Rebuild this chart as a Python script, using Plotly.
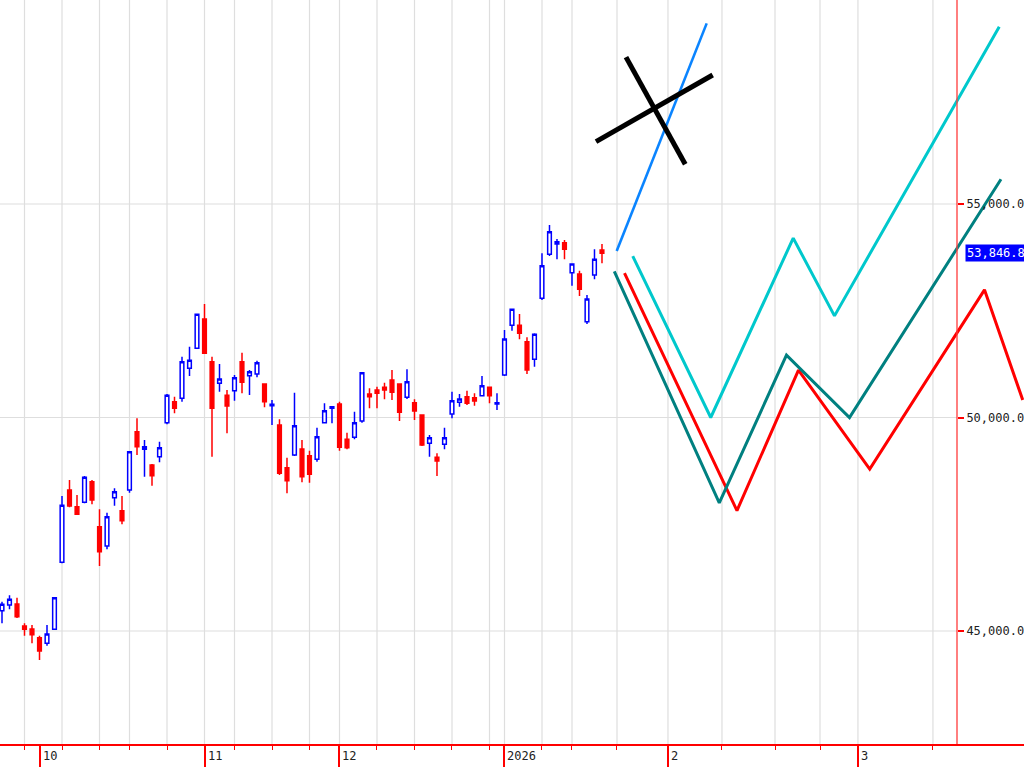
import plotly.graph_objects as go
import datetime as dt

# ---- daily candles (Nikkei 225, Sep 24 2025 - Jan 23 2026) ----
dates = [
    "2025-09-24", "2025-09-25", "2025-09-26", "2025-09-29", "2025-09-30",
    "2025-10-01", "2025-10-02", "2025-10-03", "2025-10-06", "2025-10-07", "2025-10-08", "2025-10-09", "2025-10-10",
    "2025-10-14", "2025-10-15", "2025-10-16", "2025-10-17", "2025-10-20", "2025-10-21", "2025-10-22", "2025-10-23",
    "2025-10-24", "2025-10-27", "2025-10-28", "2025-10-29", "2025-10-30", "2025-10-31",
    "2025-11-04", "2025-11-05", "2025-11-06", "2025-11-07", "2025-11-10", "2025-11-11", "2025-11-12", "2025-11-13",
    "2025-11-14", "2025-11-17", "2025-11-18", "2025-11-19", "2025-11-20", "2025-11-21", "2025-11-25", "2025-11-26",
    "2025-11-27", "2025-11-28",
    "2025-12-01", "2025-12-02", "2025-12-03", "2025-12-04", "2025-12-05", "2025-12-08", "2025-12-09", "2025-12-10",
    "2025-12-11", "2025-12-12", "2025-12-15", "2025-12-16", "2025-12-17", "2025-12-18", "2025-12-19", "2025-12-22",
    "2025-12-23", "2025-12-24", "2025-12-25", "2025-12-26", "2025-12-29", "2025-12-30",
    "2026-01-05", "2026-01-06", "2026-01-07", "2026-01-08", "2026-01-09", "2026-01-13", "2026-01-14", "2026-01-15",
    "2026-01-16", "2026-01-19", "2026-01-20", "2026-01-21", "2026-01-22", "2026-01-23",
]
opens = [45475, 45609, 45632, 45117, 45047, 44843, 44712, 45040, 46609, 48302, 47911, 48014, 48496,
         47443, 46991, 48122, 47817, 48302, 49667, 49255, 48888, 49082, 49878, 50370, 50450, 51152, 51621,
         52307, 51307, 50801, 50520, 50628, 51307, 50979, 51019, 50785, 50276, 49824, 48824, 49122, 49262,
         49105, 49021, 49878, 50215,
         50316, 49489, 49536, 49918, 50550, 50644, 50707, 50878, 50785, 50473, 50347, 50059, 49396, 49068,
         49372, 50082, 50356, 50487, 50464, 50511, 50707, 50316,
         50995, 52159, 52159, 51775, 51363, 52792, 53822, 54063, 54094, 53391, 53361, 52244, 53337, 53923]
highs = [45686, 45836, 45780, 45180, 45140, 44890, 45140, 45780, 48162, 48536, 48185, 48630, 48536,
         47850, 47770, 48342, 48162, 49215, 49981, 49473, 48911, 49433, 50550, 50487, 51424, 51658, 52417,
         52658, 51424, 51253, 50644, 50995, 51518, 51112, 51330, 50800, 50410, 49958, 49059, 50581, 49473,
         49222, 49761, 50333, 50253,
         50370, 49644, 50136, 51049, 50684, 50721, 50815, 51112, 50785, 51129, 50426, 50059, 49590, 49162,
         49761, 50604, 50550, 50628, 50567, 50972, 50721, 50567,
         52049, 52534, 52424, 51878, 51972, 53846, 54508, 54180, 54157, 53595, 53438, 52869, 53939, 54063]
lows = [45180, 45508, 45304, 44890, 44712, 44321, 44656, 45023, 46585, 47897, 47717, 47991, 47967,
        46522, 46913, 47934, 47499, 48239, 49122, 48614, 48403, 48951, 49841, 50098, 50370, 50972, 51621,
        51504, 49082, 50604, 49630, 50393, 50567, 50527, 50941, 50239, 49824, 48653, 48225, 49098, 48482,
        48473, 48965, 49864, 49864,
        49222, 49255, 49489, 49878, 50215, 50215, 50426, 50410, 49918, 50433, 49941, 49333, 49082, 48630,
        49255, 49981, 50253, 50293, 50276, 50511, 50333, 50176,
        50972, 52033, 51831, 51019, 51190, 52752, 53782, 53705, 53705, 53087, 52846, 52190, 53237, 53611]
closes = [45625, 45742, 45335, 45040, 44913, 44531, 44930, 45780, 47944, 47927, 47733, 48599, 48068,
          46857, 47677, 48262, 47583, 49199, 49316, 49316, 48637, 49293, 50520, 50215, 51307, 51340, 52417,
          51504, 50215, 50902, 50269, 50932, 50824, 51073, 51283, 50370, 50309, 48693, 48520, 49808, 48614,
          48670, 49550, 50159, 50253,
          49302, 49293, 49878, 51049, 50487, 50567, 50644, 50590, 50122, 50838, 50152, 49356, 49527, 48981,
          49527, 50393, 50433, 50333, 50386, 50745, 50511, 50347,
          51838, 52534, 51972, 51112, 51949, 53555, 54351, 54117, 53939, 53595, 53002, 52775, 53705, 53846.87]

# future part of the time axis (in trading-day slots after the last candle)
future_week_slots = [82.0, 88.8, 96.0, 103.07, 109.07, 114.13, 124.13]
future_month_slots = [88.8, 114.13]
future_month_labels = ["2", "3"]

# ---- hand-drawn scenario lines (slot, price) ----
blue_x = [81.96, 93.96]
blue_y = [53900, 59230]
cyan_x = [84.1, 94.5, 105.5, 111.0, 132.97]
cyan_y = [53780, 50000, 54200, 52380, 59150]
teal_x = [81.64, 95.64, 104.6, 113.0, 133.2]
teal_y = [53420, 48000, 51460, 50000, 55580]
red_x = [83.0, 98.0, 106.2, 115.7, 131.0, 136.1]
red_y = [53380, 47820, 51110, 48790, 52990, 50410]
cross_a_x = [79.2, 94.76]
cross_a_y = [56460, 58020]
cross_b_x = [83.2, 91.1]
cross_b_y = [58440, 55930]

price_ticks = [45000, 50000, 55000]
last_price = closes[-1]

# ---- derived axis positions ----
slots = list(range(len(dates)))
parsed = [dt.date.fromisoformat(d) for d in dates]
week_slots, month_slots, month_labels = [], [], []
for i, d in enumerate(parsed):
    if i == 0:
        continue
    p = parsed[i - 1]
    if d.isocalendar()[1] != p.isocalendar()[1]:
        week_slots.append(i)
    if d.month != p.month:
        month_slots.append(i)
        month_labels.append(str(d.year) if d.year != p.year else str(d.month))
week_slots += future_week_slots
month_slots += future_month_slots
month_labels += future_month_labels

MONO = "DejaVu Sans Mono"
AXIS_X = 957 / 1024

fig = go.Figure()
fig.add_trace(go.Candlestick(
    x=slots, open=opens, high=highs, low=lows, close=closes,
    increasing=dict(line=dict(color="#0000FF", width=1.5), fillcolor="#FFFFFF"),
    decreasing=dict(line=dict(color="#FF0000", width=1.5), fillcolor="#FF0000"),
    whiskerwidth=0, showlegend=False, hoverinfo="skip",
))
line_style = [
    (red_x, red_y, "#FF0000", 3),
    (cyan_x, cyan_y, "#00C8CC", 3),
    (teal_x, teal_y, "#008080", 3),
    (blue_x, blue_y, "#0A84FF", 2.6),
    (cross_a_x, cross_a_y, "#000000", 5),
    (cross_b_x, cross_b_y, "#000000", 5),
]
for xs, ys, col, w in line_style:
    fig.add_trace(go.Scatter(x=xs, y=ys, mode="lines", line=dict(color=col, width=w),
                             showlegend=False, hoverinfo="skip"))

shapes = []
for ws in week_slots:
    shapes.append(dict(type="line", xref="x", yref="paper", x0=ws, x1=ws, y0=0, y1=1,
                       line=dict(color="#DEDEDE", width=1.2), layer="below"))
for pt in price_ticks:
    shapes.append(dict(type="line", xref="paper", yref="y", x0=0, x1=AXIS_X, y0=pt, y1=pt,
                       line=dict(color="#DEDEDE", width=1.2), layer="below"))
# price-axis spine (red)
shapes.append(dict(type="line", xref="paper", yref="paper", x0=AXIS_X, x1=AXIS_X, y0=0, y1=1,
                   line=dict(color="#FF3B3B", width=1.3), layer="above"))

annotations = []
for ms, lab in zip(month_slots, month_labels):
    annotations.append(dict(x=ms, xref="x", y=0, yref="paper", text=lab, showarrow=False,
                            xanchor="left", yanchor="top", xshift=1, yshift=-3,
                            font=dict(family=MONO, size=12, color="#222222")))
# the price tag shows the last close as far as the window's right edge allows
price_tag = f"{int(last_price * 10) / 10:,.1f}"
annotations.append(dict(x=AXIS_X, xref="paper", y=last_price, yref="y",
                        text=price_tag, showarrow=False, xanchor="left", yanchor="middle",
                        xshift=8, bgcolor="#0000FF", borderpad=1,
                        font=dict(family=MONO, size=12, color="#FFFFFF")))

fig.update_layout(
    width=1024, height=768,
    margin=dict(l=0, r=0, t=0, b=24),
    paper_bgcolor="#FFFFFF", plot_bgcolor="#FFFFFF",
    shapes=shapes, annotations=annotations,
    xaxis=dict(
        range=[-0.267, 136.27], domain=[0, 1],
        rangeslider=dict(visible=False),
        showgrid=False, zeroline=False,
        showline=True, linecolor="#FF0000", linewidth=2,
        tickmode="array", tickvals=month_slots, ticks="outside", ticklen=21,
        tickcolor="#FF0000", tickwidth=1.5, showticklabels=False,
        minor=dict(tickmode="array", tickvals=week_slots, ticks="outside", ticklen=4,
                   tickcolor="#FF0000", tickwidth=1, showgrid=False),
    ),
    yaxis=dict(
        range=[42354, 59777], anchor="free", position=AXIS_X, side="right",
        showgrid=False, zeroline=False, showline=False,
        tickmode="array", tickvals=price_ticks, tickformat=",.1f",
        ticks="outside", ticklen=6, tickcolor="#FF0000", tickwidth=1.5,
        tickfont=dict(family=MONO, size=12, color="#222222"),
        automargin=False,
    ),
)

fig.write_html("out.html", config={"displayModeBar": False},
               post_script="document.body.style.margin='0';document.body.style.overflow='hidden';")
